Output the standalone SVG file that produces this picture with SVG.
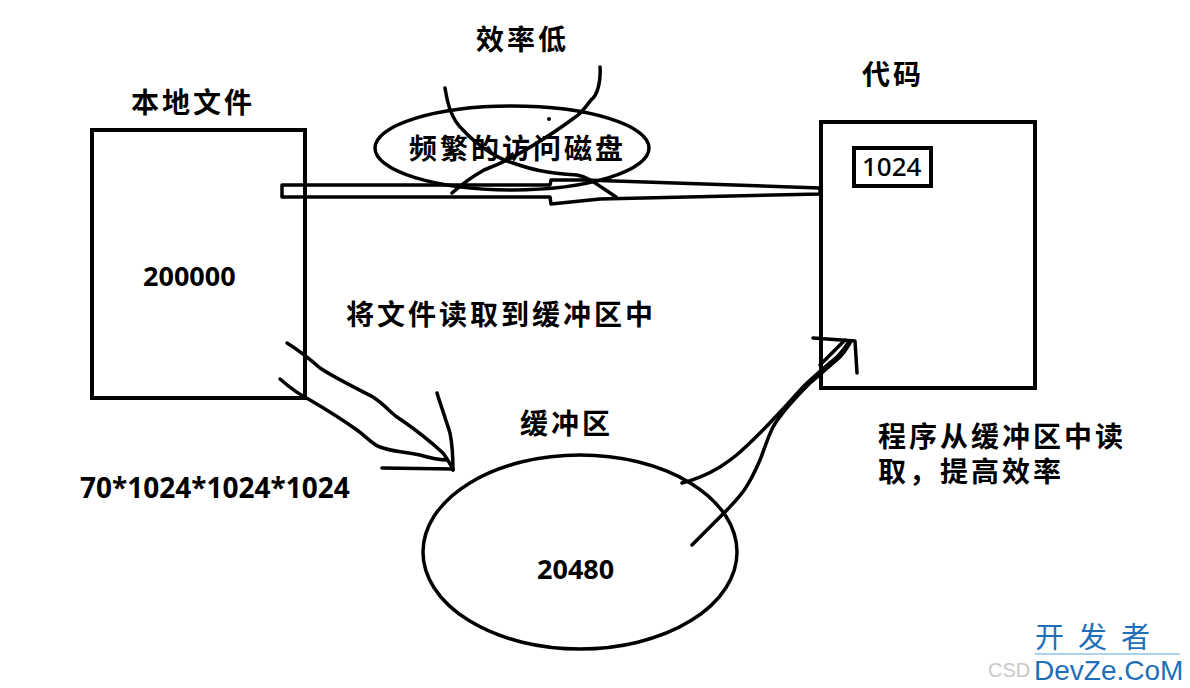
<svg xmlns="http://www.w3.org/2000/svg" width="1190" height="688" viewBox="0 0 1190 688">
<style>
.box{fill:none;stroke:#000;stroke-width:4}
.ln{fill:none;stroke:#000;stroke-width:3.5;stroke-linecap:round;stroke-linejoin:round}
.cj{font-family:"Noto Sans CJK SC","Noto Sans",sans-serif;font-size:28px;font-weight:bold;letter-spacing:3px;fill:#000}
.num{font-family:"Noto Sans","Noto Sans CJK SC",sans-serif;font-size:27px;font-weight:bold;fill:#000}
</style>
<rect width="1190" height="688" fill="#fff"/>
<g id="local-file">
<rect class="box" x="92" y="130" width="213" height="268"/>
<text class="cj" x="131" y="113">本地文件</text>
<text class="num" x="143" y="286">200000</text>
</g>
<g id="code">
<rect class="box" x="821" y="122" width="214" height="266"/>
<text class="cj" x="862" y="85">代码</text>
<rect class="box" x="854" y="148" width="77" height="38"/>
<text x="862" y="176" style="font-family:'Noto Sans',sans-serif;font-size:26px;font-weight:500;fill:#000">1024</text>
</g>
<g id="disk-access">
<ellipse class="ln" cx="512" cy="148" rx="137" ry="42"/>
<text class="cj" x="409" y="159">频繁的访问磁盘</text>
</g>
<g id="buffer">
<ellipse class="ln" cx="580" cy="552" rx="157" ry="97"/>
<text class="cj" x="520" y="434">缓冲区</text>
<text class="num" x="537" y="579">20480</text>
</g>
<g id="labels">
<text class="cj" x="476" y="50">效率低</text>
<text class="cj" x="346" y="325">将文件读取到缓冲区中</text>
<text class="num" x="80" y="498" style="font-size:28px">70*1024*1024*1024</text>
<text class="cj" x="878" y="447">程序从缓冲区中读</text>
<text class="cj" x="878" y="482">取，提高效率</text>
</g>
<g id="connectors">
<path class="ln" d="M282 185 L550 185 L551 180 L585 180 L820 188 L820 194 L600 199 L551 204 L550 197 L282 197 Z"/>
<path class="ln" d="M445 88 C447 100 450 118 463 130 C475 143 495 158 513 163 C530 169 545 173 577 175 C588 177 595 183 616 197"/>
<path class="ln" d="M600 67 C601 80 598 95 591 100 C585 108 580 115 574 118 C560 128 549 137 513 157 C500 164 492 167 484 170 C470 178 462 184 452 193"/>
<circle cx="549" cy="119" r="2" fill="#000"/>
<path class="ln" d="M287 343 C295 348 303 353 320 368 C330 375 340 380 373 397 C385 405 390 412 397 417 C410 426 420 432 443 453 C448 460 451 465 453 470"/>
<path class="ln" d="M280 379 C288 386 298 394 310 400 C322 407 340 418 357 430 C368 438 372 444 380 447 C390 451 398 451 420 455 C430 458 438 460 447 460"/>
<path class="ln" d="M437 393 C440 403 446 420 450 433 C452 443 453 455 453 470"/>
<path class="ln" d="M382 468 L453 469"/>
<path class="ln" d="M813 338 L855 341 L857 373"/>
<path class="ln" d="M682 483 C690 481 705 476 720 467 C732 459 738 455 760 433 C770 423 778 415 803 387 C812 378 818 373 837 357 C842 352 845 348 848 343"/>
<path class="ln" d="M692 545 C700 537 715 522 727 510 C740 496 747 490 760 460 C765 447 768 437 773 427 C780 415 790 403 810 383 C818 376 822 373 840 357 C845 352 847 348 850 343"/>
<path class="ln" d="M820 365 L845 340"/>
</g>
<g id="watermark">
<text x="1035" y="648" style="font-family:'Noto Sans CJK SC',sans-serif;font-size:29px;fill:#1f6fb8;letter-spacing:14px">开发者</text>
<line x1="1035" y1="654" x2="1180" y2="654" stroke="#8fc3ea" stroke-width="1.5"/>
<text x="988" y="677" style="font-family:'Liberation Sans',sans-serif;font-size:20px;fill:#c8c8c8">CSD</text>
<text x="1034" y="680" style="font-family:'Liberation Sans',sans-serif;font-size:28px;fill:#1f6fb8">DevZe.CoM</text>
</g>
</svg>
